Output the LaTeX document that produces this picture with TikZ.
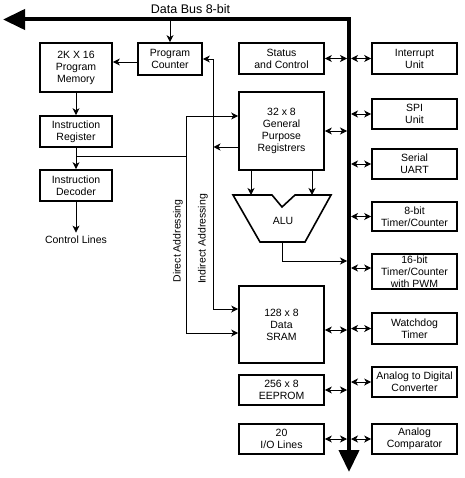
\documentclass[tikz,border=0pt]{standalone}
\usepackage{fontspec}
\setmainfont{Liberation Sans}
\usetikzlibrary{arrows.meta}

\tikzset{
	blk/.style={draw, line width=1.6pt, align=center, inner sep=0pt, font=\fontsize{10.5}{12}\selectfont},
	midblk/.style={blk, minimum width=85pt},
	rblk/.style={blk, minimum width=85pt},
	lblk/.style={blk, minimum width=72pt},
	lbl/.style={align=center, font=\fontsize{10.5}{12}\selectfont},
	conn/.style={line width=0.8pt},
	arr/.style={conn, -{Stealth[length=7pt,width=7pt,inset=2pt]}},
	dbl/.style={conn, {Stealth[length=7pt,width=7pt,inset=2pt]}-{Stealth[length=7pt,width=7pt,inset=2pt]}},
	bus/.style={line width=4pt, {Triangle[length=22pt,width=20pt]}-{Triangle[length=22pt,width=20pt]}}
}

\begin{document}
\begin{tikzpicture}[x=1pt,y=-1pt]
	\useasboundingbox (0,0) rectangle (464,478);
	% bus
	\coordinate (busL) at (3,19.5);
	\coordinate (busB) at (349,472);
	\coordinate (busW) at (347,0);
	\coordinate (busE) at (351,0);
	\node[font=\fontsize{12.5}{14}\selectfont] (buslbl) at (190.5,9) {Data Bus 8-bit};
	
	% left column
	\node[blk, minimum width=64pt, minimum height=32pt] (pc) at (170,59) {Program\\Counter};
	\node[lblk, minimum height=49pt] (pmem) at (76,67.5) {2K X 16\\Program\\Memory};
	\node[lblk, minimum height=31pt] (ir) at (76,131.5) {Instruction\\Register};
	\node[lblk, minimum height=31pt] (idec) at (76,185.5) {Instruction\\Decoder};
	\node[lbl] (ctl) at (76,240) {Control Lines};
	\draw[arr] (pc.north |- busL) -- (pc.north);
	\draw[arr] ([yshift=-3pt]pc.west) -- ([yshift=-3pt]pc.west -| pmem.east);
	\draw[arr] (pmem.south) -- (ir.north);
	\draw[arr] (ir.south) -- (idec.north);
	\draw[arr] (idec.south) -- (ctl.north);
	
	% middle column
	\node[midblk, minimum height=31pt] (stat) at (281.5,58.5) {Status\\and Control};
	\node[midblk, minimum height=78pt] (gpr) at (281.5,131) {32 x 8\\General\\Purpose\\Registrers};
	\node[midblk, minimum height=77pt] (sram) at (281.5,324.5) {128 x 8\\Data\\SRAM};
	\node[midblk, minimum height=30pt] (eeprom) at (281.5,390) {256 x 8\\EEPROM};
	\node[midblk, minimum height=30pt] (io) at (281.5,439) {20\\I/O Lines};
	
	% ALU
	\draw[line width=1.6pt, line join=miter] (233,195) -- (272,195) -- (282,207) -- (295,195) -- (331,195) -- (305,242) -- (260,242) -- cycle;
	\node[lbl] (alu) at (283,221) {ALU};
	\coordinate (ain1) at (251,195);
	\coordinate (ain2) at (312,195);
	\coordinate (aout) at (282,242);
	\coordinate (aend) at (347,261);
	\draw[arr] (gpr.south -| ain1) -- (ain1);
	\draw[arr] (gpr.south -| ain2) -- (ain2);
	\draw[arr] (aout) |- (aend);
	
	% addressing
	\coordinate (dA) at (186,156);
	\coordinate (iA) at (213.5,147);
	\draw[conn] (ir.south |- dA) -- (dA);
	\draw[arr] (dA) |- ([yshift=15pt]gpr.west);
	\draw[arr] (dA) |- ([yshift=-8.5pt]sram.west);
	\draw[arr] ([yshift=-16pt]gpr.west) -- (iA);
	\draw[arr] (iA) |- (pc.east);
	\draw[arr] (iA) |- ([yshift=15.5pt]sram.west);
	\node[lbl, rotate=90] (dlbl) at (178,241) {Direct Addressing};
	\node[lbl, rotate=90] (ilbl) at (203,239) {Indirect Addressing};
	
	% right column
	\node[rblk, minimum height=31pt] (intr) at (414.5,58.5) {Interrupt\\Unit};
	\node[rblk, minimum height=30pt] (spi) at (414.5,114) {SPI\\Unit};
	\node[rblk, minimum height=30pt] (uart) at (414.5,164) {Serial\\UART};
	\node[rblk, minimum height=29pt] (tim8) at (414.5,216.5) {8-bit\\Timer/Counter};
	\node[rblk, minimum height=35pt] (tim16) at (414.5,271.5) {16-bit\\Timer/Counter\\with PWM};
	\node[rblk, minimum height=31pt] (wdt) at (414.5,328.5) {Watchdog\\Timer};
	\node[rblk, minimum height=30pt] (adc) at (414.5,382) {Analog to Digital\\Converter};
	\node[rblk, minimum height=30pt] (acmp) at (414.5,439) {Analog\\Comparator};
	\coordinate (t16) at ([yshift=3.5pt]tim16.west);
	
	% bus connections
	\draw[dbl] (stat.east) -- (stat.east -| busW);
	\draw[dbl] (gpr.east) -- (gpr.east -| busW);
	\draw[dbl] ([yshift=-5.5pt]sram.east) -- ([yshift=-5.5pt]sram.east -| busW);
	\draw[dbl] (eeprom.east) -- (eeprom.east -| busW);
	\draw[dbl] (io.east) -- (io.east -| busW);
	\foreach \b in {intr,spi,uart,tim8,wdt,adc,acmp}
		\draw[dbl] (busE |- \b.west) -- (\b.west);
	\draw[dbl] (busE |- t16) -- (t16);
	
	\draw[bus] (busL) -| (busB);
\end{tikzpicture}
\end{document}
